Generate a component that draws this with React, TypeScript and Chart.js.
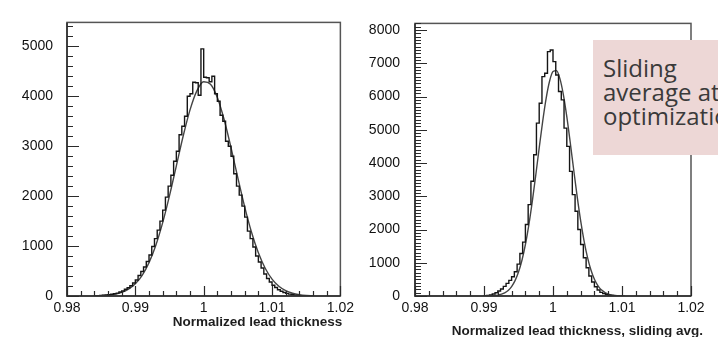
import React, { useEffect, useRef } from 'react';
import { Chart, registerables } from 'chart.js';

Chart.register(...registerables);

// ---------- data ----------
const BIN_WIDTH = 0.0004;
const xTickValues = [0.98, 0.99, 1.0, 1.01, 1.02];
const xTickLabels = ['0.98', '0.99', '1', '1.01', '1.02'];

// Left panel: normalized lead thickness
const leftHistStart = 0.984;
const leftCounts = [
  3, 4, 8, 10, 14, 20, 25, 36, 48, 58,
  80, 100, 135, 165, 205, 260, 320, 410, 490, 580,
  690, 820, 990, 1150, 1320, 1500, 1720, 1980, 2200, 2420,
  2700, 2900, 3230, 3400, 3600, 4000, 4050, 4280, 4270, 4020,
  4950, 4380, 4370, 4290, 4400, 4050, 3900, 3620, 3500, 3100,
  3000, 2800, 2450, 2200, 2020, 1800, 1580, 1300, 1150, 980,
  800, 680, 560, 440, 350, 280, 215, 170, 125, 95,
  70, 52, 38, 26, 18, 12, 8, 5, 3, 2,
];
const leftFitX = [
  0.984, 0.985, 0.986, 0.987, 0.988, 0.989, 0.99, 0.991, 0.992, 0.993, 0.994,
  0.995, 0.996, 0.997, 0.998, 0.999, 1.0, 1.001, 1.002, 1.003, 1.004, 1.005,
  1.006, 1.007, 1.008, 1.009, 1.01, 1.011, 1.012, 1.013, 1.014, 1.015, 1.016,
];
const leftFitY = [
  3, 8, 17, 36, 72, 136, 244, 414, 668, 1017, 1470,
  2011, 2608, 3204, 3727, 4108, 4290, 4243, 3977, 3530, 2970, 2367,
  1786, 1277, 866, 556, 338, 195, 106, 55, 27, 12, 6,
];
const leftYTicks = [0, 1000, 2000, 3000, 4000, 5000];
const leftYMax = 5480;
const leftTitle = 'Normalized lead thickness';

// Right panel: sliding average
const rightHistStart = 0.99;
const rightCounts = [
  5, 10, 18, 35, 60, 100, 150, 210, 290, 380,
  470, 580, 730, 960, 1280, 1620, 2150, 2750, 3450, 4250,
  5200, 5800, 6600, 6700, 7350, 7400, 7050, 6650, 6150, 5900,
  5050, 4500, 3750, 3050, 2550, 2000, 1550, 1150, 850, 600,
  420, 280, 180, 110, 70, 40, 25, 15, 8, 4,
  2,
];
const rightFitX = [
  0.99, 0.991, 0.992, 0.993, 0.9935, 0.994, 0.9945, 0.995, 0.9955, 0.996,
  0.9965, 0.997, 0.9975, 0.998, 0.9985, 0.999, 0.9995, 1.0, 1.0005, 1.001,
  1.0015, 1.002, 1.0025, 1.003, 1.0035, 1.004, 1.0045, 1.005, 1.0055, 1.006,
  1.0065, 1.007, 1.008, 1.009, 1.01,
];
const rightFitY = [
  1, 7, 27, 96, 168, 284, 461, 719, 1076, 1549,
  2142, 2846, 3632, 4454, 5248, 5940, 6460, 6751, 6778, 6539,
  6060, 5397, 4617, 3795, 2998, 2275, 1659, 1161, 782, 505,
  314, 187, 59, 16, 4,
];
const rightYTicks = [0, 1000, 2000, 3000, 4000, 5000, 6000, 7000, 8000];
const rightYMax = 8200;
const rightTitle = 'Normalized lead thickness, sliding avg.';

const boxLines = ['Sliding', 'average at', 'optimization'];

// ---------- helpers ----------
function histPoints(start: number, counts: number[]) {
  const pts: { x: number; y: number }[] = [{ x: start, y: 0 }];
  counts.forEach((c, i) => pts.push({ x: start + i * BIN_WIDTH, y: c }));
  pts.push({ x: start + counts.length * BIN_WIDTH, y: 0 });
  return pts;
}

function fitPoints(xs: number[], ys: number[]) {
  return xs.map((x, i) => ({ x, y: ys[i] }));
}

const TICK_FONT = { family: '"Liberation Sans", Arial, sans-serif', size: 14 };

function framePlugin(opts: {
  title: string;
  titleDx: number;
  titleY: number;
  yMinorStep: number;
  yMajorStep: number;
}) {
  return {
    id: 'rootFrame',
    afterDraw(chart: any) {
      const { ctx, chartArea: a, scales } = chart;
      const xs = scales.x;
      const ys = scales.y;
      ctx.save();
      // frame
      ctx.strokeStyle = '#555';
      ctx.lineWidth = 1.5;
      ctx.strokeRect(a.left, a.top, a.right - a.left, a.bottom - a.top);
      ctx.strokeStyle = '#2a2a2a';
      ctx.beginPath();
      ctx.moveTo(a.left, a.top);
      ctx.lineTo(a.left, a.bottom);
      ctx.lineTo(a.right, a.bottom);
      ctx.stroke();
      // x ticks (inside)
      ctx.lineWidth = 1.2;
      ctx.beginPath();
      const xMinor = 0.002;
      const nx = Math.round((xs.max - xs.min) / xMinor);
      for (let i = 0; i <= nx; i++) {
        const v = xs.min + i * xMinor;
        const px = Math.round(xs.getPixelForValue(v)) + 0.5;
        const len = i % 5 === 0 ? 10 : 5;
        ctx.moveTo(px, a.bottom);
        ctx.lineTo(px, a.bottom - len);
      }
      // y ticks (inside)
      const ny = Math.floor(ys.max / opts.yMinorStep);
      const ratio = Math.round(opts.yMajorStep / opts.yMinorStep);
      for (let i = 0; i <= ny; i++) {
        const v = i * opts.yMinorStep;
        const py = Math.round(ys.getPixelForValue(v)) + 0.5;
        const len = i % ratio === 0 ? 12 : 6;
        ctx.moveTo(a.left, py);
        ctx.lineTo(a.left + len, py);
      }
      ctx.stroke();
      // axis title
      ctx.font = 'bold 13.5px "Liberation Sans", Arial, sans-serif';
      ctx.fillStyle = '#1e1e1e';
      ctx.textAlign = 'right';
      ctx.textBaseline = 'alphabetic';
      ctx.fillText(opts.title, a.right + opts.titleDx, opts.titleY);
      ctx.restore();
    },
  };
}

type PanelProps = {
  left: number;
  width: number;
  padRight: number;
  yAxisWidth: number;
  yLabelPad: number;
  histStart: number;
  counts: number[];
  fitX: number[];
  fitY: number[];
  yTicks: number[];
  yMax: number;
  yMinorStep: number;
  title: string;
  titleDx: number;
  titleY: number;
};

function Panel(p: PanelProps) {
  const ref = useRef<HTMLCanvasElement>(null);
  useEffect(() => {
    const chart = new Chart(ref.current as HTMLCanvasElement, {
      type: 'line',
      data: {
        datasets: [
          {
            data: histPoints(p.histStart, p.counts),
            stepped: 'after',
            borderColor: '#151515',
            borderWidth: 1.4,
            pointRadius: 0,
            fill: false,
          },
          {
            data: fitPoints(p.fitX, p.fitY),
            borderColor: '#444',
            borderWidth: 1.4,
            pointRadius: 0,
            fill: false,
            cubicInterpolationMode: 'monotone',
          },
        ],
      },
      options: {
        animation: false,
        responsive: false,
        maintainAspectRatio: false,
        layout: { padding: { left: 0, top: 11, right: p.padRight, bottom: 0 } },
        plugins: {
          legend: { display: false },
          tooltip: { enabled: false },
          title: { display: false },
        },
        scales: {
          x: {
            type: 'linear',
            min: xTickValues[0],
            max: xTickValues[xTickValues.length - 1],
            afterBuildTicks: (s: any) => {
              s.ticks = xTickValues.map((v) => ({ value: v }));
            },
            afterFit: (s: any) => {
              s.height = 41;
            },
            ticks: {
              autoSkip: false,
              maxRotation: 0,
              padding: 4,
              color: '#111',
              font: TICK_FONT,
              callback: (_v: any, i: number) => xTickLabels[i],
            },
            grid: { display: false, drawTicks: false },
            border: { display: false },
          },
          y: {
            type: 'linear',
            min: 0,
            max: p.yMax,
            afterBuildTicks: (s: any) => {
              s.ticks = p.yTicks.map((v) => ({ value: v }));
            },
            afterFit: (s: any) => {
              s.width = p.yAxisWidth;
            },
            ticks: {
              autoSkip: false,
              padding: p.yLabelPad,
              color: '#111',
              font: TICK_FONT,
              callback: (v: any) => String(v),
            },
            grid: { display: false, drawTicks: false },
            border: { display: false },
          },
        },
      },
      plugins: [
        framePlugin({
          title: p.title,
          titleDx: p.titleDx,
          titleY: p.titleY,
          yMinorStep: p.yMinorStep,
          yMajorStep: 1000,
        }),
      ],
    } as any);
    return () => chart.destroy();
  }, []);
  return (
    <canvas
      ref={ref}
      width={p.width}
      height={337}
      style={{ position: 'absolute', left: p.left, top: 0, width: p.width, height: 337 }}
    />
  );
}

export default function App() {
  return (
    <div
      style={{
        position: 'absolute',
        left: 0,
        top: 0,
        width: 718,
        height: 337,
        overflow: 'hidden',
        background: '#ffffff',
      }}
    >
      <Panel
        left={0}
        width={358}
        padRight={15}
        yAxisWidth={67}
        yLabelPad={14}
        histStart={leftHistStart}
        counts={leftCounts}
        fitX={leftFitX}
        fitY={leftFitY}
        yTicks={leftYTicks}
        yMax={leftYMax}
        yMinorStep={200}
        title={leftTitle}
        titleDx={2}
        titleY={326}
      />
      <Panel
        left={358}
        width={360}
        padRight={27}
        yAxisWidth={57}
        yLabelPad={15}
        histStart={rightHistStart}
        counts={rightCounts}
        fitX={rightFitX}
        fitY={rightFitY}
        yTicks={rightYTicks}
        yMax={rightYMax}
        yMinorStep={100}
        title={rightTitle}
        titleDx={12}
        titleY={335}
      />
      <div
        style={{
          position: 'absolute',
          left: 593,
          top: 40,
          width: 125,
          height: 115,
          background: '#edd7d6',
          overflow: 'hidden',
          boxSizing: 'border-box',
          paddingLeft: 10,
          paddingTop: 16,
          fontFamily: '"Open Sans", sans-serif',
          fontSize: 24,
          lineHeight: '24px',
          color: '#3a3a3a',
          whiteSpace: 'nowrap',
        }}
      >
        {boxLines.map((l, i) => (
          <div key={i}>{l}</div>
        ))}
      </div>
    </div>
  );
}
